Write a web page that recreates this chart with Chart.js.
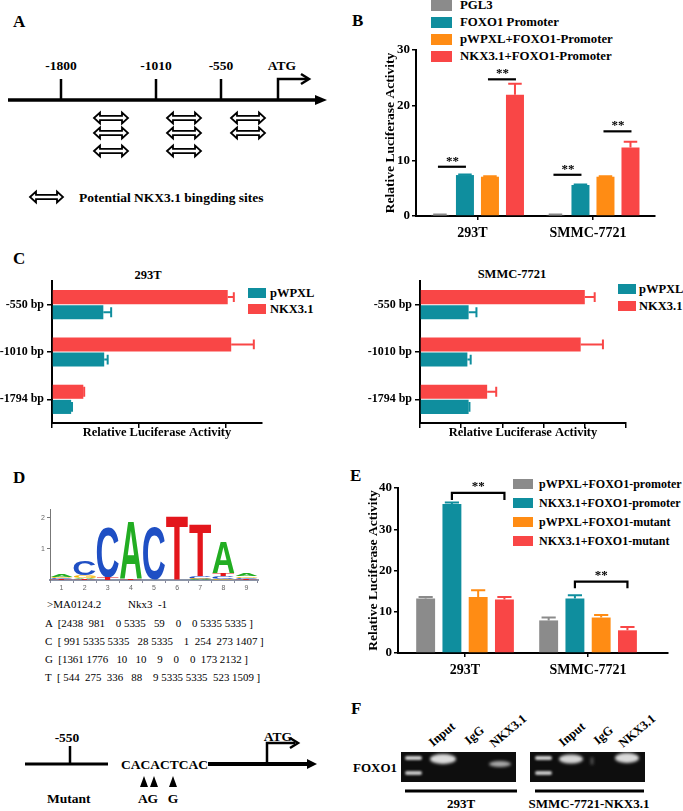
<!DOCTYPE html>
<html><head><meta charset="utf-8">
<script src="https://cdn.jsdelivr.net/npm/chart.js@4.4.0/dist/chart.umd.min.js"></script>
<style>
html,body{margin:0;padding:0;background:#fff;}
body{width:683px;height:811px;position:relative;overflow:hidden;font-family:"Liberation Serif","Times New Roman",serif;color:#000;}
.wrap{position:absolute;}
.abs{position:absolute;white-space:pre;line-height:1;}
.b{font-weight:bold;}
#diag{position:absolute;left:0;top:0;}
.lgbox{position:absolute;}
</style></head><body>
<svg id="diag" width="683" height="811" xmlns="http://www.w3.org/2000/svg" font-family="Liberation Serif, Times New Roman, serif">
  <defs>
    <filter id="blur1" x="-50%" y="-50%" width="200%" height="200%"><feGaussianBlur stdDeviation="1.6"/></filter>
    <filter id="blur2" x="-50%" y="-50%" width="200%" height="200%"><feGaussianBlur stdDeviation="1"/></filter>
  </defs>
  <g font-weight="bold">
    <text x="13" y="27" font-size="17">A</text>
    <text x="352" y="26" font-size="17">B</text>
    <text x="13" y="264" font-size="17">C</text>
    <text x="13" y="483" font-size="17">D</text>
    <text x="350" y="481" font-size="17">E</text>
    <text x="351" y="714" font-size="17">F</text>
  </g>
  <!-- Panel A -->
  <g id="panelA" stroke="#000" fill="none">
    <line x1="8" y1="100" x2="318" y2="100" stroke-width="3.5"/>
    <polygon points="315,95 327,100 315,105" fill="#000" stroke="none"/>
    <line x1="61" y1="79" x2="61" y2="100" stroke-width="2.5"/>
    <line x1="156" y1="79" x2="156" y2="100" stroke-width="2.5"/>
    <line x1="221" y1="79" x2="221" y2="100" stroke-width="2.5"/>
    <polyline points="278,100 278,79 307,79" stroke-width="2.5"/>
    <polyline points="301,74 309,79 301,84" stroke-width="2.5"/>
  </g>
  <g font-weight="bold" font-size="13.5" text-anchor="middle">
    <text x="61" y="70">-1800</text>
    <text x="156" y="70">-1010</text>
    <text x="221" y="70">-550</text>
    <text x="282" y="70">ATG</text>
  </g>
  <g id="arrowsA"></g>
  <text x="79" y="202" font-weight="bold" font-size="13.5">Potential NKX3.1 bingding sites</text>

  <!-- Panel D mutant diagram -->
  <g stroke="#000" fill="none">
    <line x1="25" y1="764" x2="108" y2="764" stroke-width="3"/>
    <line x1="70" y1="746" x2="70" y2="764" stroke-width="2.5"/>
    <line x1="208" y1="764" x2="309" y2="764" stroke-width="4"/>
    <polyline points="267,764 267,743 295,743" stroke-width="2.5"/>
    <polyline points="290,738 298,743 290,748" stroke-width="2.5"/>
  </g>
  <polygon points="307,759 317,764 307,769" fill="#000"/>
  <g fill="#000">
    <polygon points="140,787 148,787 144,776"/>
    <polygon points="150,787 158,787 154,776"/>
    <polygon points="169,787 177,787 173,776"/>
  </g>
  <g font-weight="bold" font-size="13.5">
    <text x="67" y="742" text-anchor="middle">-550</text>
    <text x="121" y="769" font-size="13.5">CACACTCAC</text>
    <text x="278" y="741" text-anchor="middle">ATG</text>
    <text x="148" y="803" text-anchor="middle">AG</text>
    <text x="173" y="803" text-anchor="middle">G</text>
    <text x="47" y="803">Mutant</text>
  </g>

  <!-- Panel F gel -->
  <g font-weight="bold" font-size="12.5">
    <text x="353" y="772" font-size="13">FOXO1</text>
    <text transform="translate(433,747) rotate(-40)">Input</text>
    <text transform="translate(469,745) rotate(-40)">IgG</text>
    <text transform="translate(494,748) rotate(-40)">NKX3.1</text>
    <text transform="translate(563,747) rotate(-40)">Input</text>
    <text transform="translate(598,745) rotate(-40)">IgG</text>
    <text transform="translate(623,748) rotate(-40)">NKX3.1</text>
    <text x="461" y="808" text-anchor="middle" font-size="13">293T</text>
    <text x="589" y="808" text-anchor="middle" font-size="13">SMMC-7721-NKX3.1</text>
  </g>
  <rect x="401" y="752" width="115" height="30" fill="#0e0e0e"/>
  <rect x="530" y="752" width="115" height="30" fill="#0e0e0e"/>
  <g filter="url(#blur2)">
    <rect x="405" y="756" width="17" height="4" rx="2" fill="#cfcfcf"/>
    <rect x="405" y="771" width="17" height="4" rx="2" fill="#c4c4c4"/>
    <rect x="535" y="756" width="17" height="4" rx="2" fill="#cfcfcf"/>
    <rect x="535" y="771" width="17" height="4" rx="2" fill="#c4c4c4"/>
  </g>
  <g filter="url(#blur1)">
    <ellipse cx="443" cy="759" rx="13" ry="5" fill="#dcdcdc"/>
    <ellipse cx="500" cy="764" rx="11" ry="3" fill="#a8a8a8"/>
    <ellipse cx="571" cy="759" rx="12" ry="4.5" fill="#d6d6d6"/>
    <ellipse cx="592" cy="761" rx="1.5" ry="4" fill="#555"/>
    <ellipse cx="627" cy="758" rx="12" ry="5" fill="#dadada"/>
  </g>
  <line x1="405" y1="791" x2="517" y2="791" stroke="#000" stroke-width="3"/>
  <line x1="535" y1="791" x2="644" y2="791" stroke="#000" stroke-width="3"/>
</svg>

<div id="legends"></div>
<div id="texts"></div>

<div class="wrap" style="left:340px;top:30px;"><canvas id="cB" width="330" height="215"></canvas></div>
<div class="wrap" style="left:-8px;top:270px;"><canvas id="cC1" width="288" height="180"></canvas></div>
<div class="wrap" style="left:340px;top:270px;"><canvas id="cC2" width="343" height="180"></canvas></div>
<div class="wrap" style="left:20px;top:500px;"><canvas id="cD" width="250" height="95"></canvas></div>
<div class="wrap" style="left:340px;top:470px;"><canvas id="cE" width="343" height="215"></canvas></div>

<script>
// ---------------- DATA ----------------
// Panel B
const bCategories = ['293T', 'SMMC-7721'];
const bSeries = ['PGL3', 'FOXO1 Promoter', 'pWPXL+FOXO1-Promoter', 'NKX3.1+FOXO1-Promoter'];
const bPGL3 = [0.2, 0.2];
const bFOXO1 = [7.4, 5.6];
const bPWPXL = [7.1, 7.1];
const bNKX = [21.9, 12.4];
const bPGL3Err = [0.25, 0.25];
const bFOXO1Err = [7.5, 5.7];
const bPWPXLErr = [7.2, 7.2];
const bNKXErr = [23.9, 13.4];
const bSigLines = [ // [category, barFrom, barTo, y]
  [0, 0, 1, 8.9], [0, 2, 3, 24.7], [1, 0, 1, 7.45], [1, 2, 3, 15.3]
];
const bTicks = [0, 10, 20, 30];

// Panel C
const cCategories = ['-550 bp', '-1010 bp', '-1794 bp'];
const cSeries = ['pWPXL', 'NKX3.1'];
const c293Pwpxl = [0.59, 0.60, 0.22];
const c293PwpxlErr = [0.68, 0.64, 0.23];
const c293Nkx = [2.02, 2.06, 0.36];
const c293NkxErr = [2.09, 2.32, 0.37];
const cSmmcPwpxl = [1.18, 1.15, 1.18];
const cSmmcPwpxlErr = [1.37, 1.23, 1.20];
const cSmmcNkx = [4.0, 3.9, 1.63];
const cSmmcNkxErr = [4.24, 4.44, 1.85];

// Panel D (sequence logo, bits)
const logoPositions = ['1','2','3','4','5','6','7','8','9'];
const logoA = [0.10, 0.05, 0.00, 1.85, 0.01, 0.00, 0.02, 1.00, 0.10];
const logoC = [0.03, 0.48, 1.62, 0.00, 1.68, 0.00, 0.08, 0.08, 0.04];
const logoG = [0.05, 0.10, 0.00, 0.00, 0.00, 0.00, 0.02, 0.04, 0.05];
const logoT = [0.02, 0.02, 0.06, 0.05, 0.00, 2.05, 1.66, 0.10, 0.03];
const matrixId = '>MA0124.2';
const matrixName = 'Nkx3  -1';
const matrixA = [2438, 981, 0, 5335, 59, 0, 0, 5335, 5335];
const matrixC = [991, 5335, 5335, 28, 5335, 1, 254, 273, 1407];
const matrixG = [1361, 1776, 10, 10, 9, 0, 0, 173, 2132];
const matrixT = [544, 275, 336, 88, 9, 5335, 5335, 523, 1509];

// Panel E
const eCategories = ['293T', 'SMMC-7721'];
const eSeries = ['pWPXL+FOXO1-promoter', 'NKX3.1+FOXO1-promoter', 'pWPXL+FOXO1-mutant', 'NKX3.1+FOXO1-mutant'];
const ePwpxlProm = [13.2, 7.9];
const eNkxProm = [36.1, 13.2];
const ePwpxlMut = [13.6, 8.6];
const eNkxMut = [13.0, 5.5];
const ePwpxlPromErr = [13.6, 8.6];
const eNkxPromErr = [36.5, 14.0];
const ePwpxlMutErr = [15.2, 9.2];
const eNkxMutErr = [13.6, 6.3];
const eBrackets = [ // [category, barFrom, barTo, y, yDrop]
  [0, 1, 3, 38.8, 37.1], [1, 1, 3, 17.3, 15.7]
];

// ---------------- STYLE ----------------
const SERIF = '"Liberation Serif", "Times New Roman", serif';
const GRAY = '#8b8b8b', TEAL = '#0f8e9e', ORANGE = '#ff8c14', RED = '#f94646';
const LOGO_COL = {A:'#22ad22', C:'#1f4fc4', G:'#f5b400', T:'#e3161c'};

// ---------------- HTML helpers ----------------
function addText(txt, x, y, size, bold, extra) {
  const d = document.createElement('div');
  d.className = 'abs' + (bold ? ' b' : '');
  d.textContent = txt;
  d.style.left = x + 'px'; d.style.top = y + 'px'; d.style.fontSize = size + 'px';
  if (extra) Object.assign(d.style, extra);
  document.getElementById('texts').appendChild(d);
  return d;
}
function addLegend(names, colors, boxX, boxW, boxH, textX, centers, size) {
  names.forEach((n, i) => {
    const b = document.createElement('div');
    b.className = 'lgbox';
    Object.assign(b.style, {left: boxX + 'px', top: (centers[i] - boxH / 2) + 'px', width: boxW + 'px', height: boxH + 'px', background: colors[i]});
    document.getElementById('legends').appendChild(b);
    addText(n, textX, centers[i] - size * 0.5, size, true);
  });
}

// Panel A arrows
(function () {
  const g = document.getElementById('arrowsA');
  function dbl(x1, x2, cy) {
    const hl = 6, hh = 5.5, sh = 2.2;
    const pts = [[x1,cy],[x1+hl,cy-hh],[x1+hl,cy-sh],[x2-hl,cy-sh],[x2-hl,cy-hh],[x2,cy],[x2-hl,cy+hh],[x2-hl,cy+sh],[x1+hl,cy+sh],[x1+hl,cy+hh]];
    const p = document.createElementNS('http://www.w3.org/2000/svg', 'polygon');
    p.setAttribute('points', pts.map(q => q.join(',')).join(' '));
    p.setAttribute('fill', '#fff'); p.setAttribute('stroke', '#000'); p.setAttribute('stroke-width', '1.8');
    p.setAttribute('stroke-linejoin', 'miter');
    g.appendChild(p);
  }
  [118, 133, 151].forEach(y => { dbl(94, 128, y); dbl(167, 201, y); });
  [118, 133].forEach(y => dbl(231, 265, y));
  dbl(30, 63, 197);
})();

// Panel C titles
addText('293T', 148, 269, 12.5, true, {transform: 'translateX(-50%)'});
addText('SMMC-7721', 512, 268, 12.5, true, {transform: 'translateX(-50%)'});

// Matrix text
function mrow(L, arr) { return L + '  [' + arr.map(n => String(n).padStart(4, ' ')).join(' ') + ' ]'; }
addText(matrixId, 47, 599, 11, false);
addText(matrixName, 128, 599, 11, false);
addText(mrow('A', matrixA), 45, 618, 10.9, false);
addText(mrow('C', matrixC), 45, 636, 10.9, false);
addText(mrow('G', matrixG), 45, 654, 10.9, false);
addText(mrow('T', matrixT), 45, 672, 10.9, false);

// Legends
addLegend(bSeries, [GRAY, TEAL, ORANGE, RED], 431, 21, 11, 460, [5, 22, 39, 56], 12.8);
addLegend(cSeries, [TEAL, RED], 248, 18, 10, 270, [293, 309], 12.5);
addLegend(cSeries, [TEAL, RED], 618, 18, 10, 639, [289, 306], 12.5);
addLegend(eSeries, [GRAY, TEAL, ORANGE, RED], 513, 20, 10, 539, [484, 503, 522, 541], 12);

// ---------------- Plugins ----------------
const annotPlugin = {
  id: 'annot',
  afterDatasetsDraw(chart, args, opts) {
    const ctx = chart.ctx;
    const hor = chart.options.indexAxis === 'y';
    const vScale = hor ? chart.scales.x : chart.scales.y;
    (opts.errors || []).forEach((arr, di) => {
      if (!arr) return;
      const meta = chart.getDatasetMeta(di);
      const col = chart.data.datasets[di].backgroundColor;
      meta.data.forEach((el, i) => {
        const e = arr[i]; if (e == null) return;
        const p = el.getProps(['x', 'y', 'width', 'height'], true);
        const q = vScale.getPixelForValue(e);
        ctx.save(); ctx.strokeStyle = col; ctx.lineWidth = opts.lineWidth || 2; ctx.beginPath();
        if (!hor) {
          const cw = p.width * (opts.cap || 0.75) / 2;
          ctx.moveTo(p.x, p.y); ctx.lineTo(p.x, q);
          ctx.moveTo(p.x - cw, q); ctx.lineTo(p.x + cw, q);
        } else {
          const ch = p.height * (opts.cap || 0.7) / 2;
          ctx.moveTo(p.x, p.y); ctx.lineTo(q, p.y);
          ctx.moveTo(q, p.y - ch); ctx.lineTo(q, p.y + ch);
        }
        ctx.stroke(); ctx.restore();
      });
    });
    (opts.sig || []).forEach(s => {
      const [cat, a, b, yv, yd] = s;
      const xa = chart.getDatasetMeta(a).data[cat].x;
      const xb = chart.getDatasetMeta(b).data[cat].x;
      const y = vScale.getPixelForValue(yv);
      ctx.save(); ctx.strokeStyle = '#000'; ctx.lineWidth = 2.2; ctx.beginPath();
      if (yd != null) {
        const y2 = vScale.getPixelForValue(yd);
        ctx.moveTo(xa, y2); ctx.lineTo(xa, y); ctx.lineTo(xb, y); ctx.lineTo(xb, y2);
      } else {
        ctx.moveTo(xa - 2, y); ctx.lineTo(xb + 1, y);
      }
      ctx.stroke();
      ctx.fillStyle = '#000'; ctx.font = 'bold 13px ' + SERIF; ctx.textAlign = 'center'; ctx.textBaseline = 'alphabetic';
      ctx.fillText('**', (xa + xb) / 2, y - (yd != null ? 3 : 2));
      ctx.restore();
    });
  }
};

function drawGlyph(ctx, ch, color, x, y, w, h) {
  ctx.save();
  ctx.font = 'bold 100px "Liberation Sans", Arial, sans-serif';
  ctx.textBaseline = 'alphabetic'; ctx.textAlign = 'left';
  const m = ctx.measureText(ch);
  const gw = m.actualBoundingBoxLeft + m.actualBoundingBoxRight;
  const gh = m.actualBoundingBoxAscent + m.actualBoundingBoxDescent;
  ctx.translate(x, y);
  ctx.scale(w / gw, h / gh);
  ctx.fillStyle = color;
  ctx.fillText(ch, m.actualBoundingBoxLeft, m.actualBoundingBoxAscent);
  ctx.restore();
}
const logoPlugin = {
  id: 'logo',
  afterDatasetsDraw(chart) {
    const ctx = chart.ctx;
    chart.data.datasets.forEach((ds, di) => {
      chart.getDatasetMeta(di).data.forEach(el => {
        const p = el.getProps(['x', 'y', 'base', 'width'], true);
        const top = Math.min(p.y, p.base), h = Math.abs(p.base - p.y);
        if (h < 0.6) return;
        drawGlyph(ctx, ds.label, LOGO_COL[ds.label], p.x - p.width / 2, top, p.width, h);
      });
    });
  }
};

// ---------------- Common axis styles ----------------
const tickFont = (s) => ({family: SERIF, size: s, weight: 'bold'});
const blackGrid = (len) => ({display: true, drawOnChartArea: false, drawTicks: true, tickLength: len, color: '#000', lineWidth: 1.5, offset: false});
const border2 = {display: true, color: '#000', width: 2};

// ---------------- Panel B / E ----------------
function groupedBars(id, cats, seriesVals, colors, errs, sig, o) {
  return new Chart(document.getElementById(id), {
    type: 'bar',
    data: {
      datasets: seriesVals.map((vals, k) => ({
        label: o.names[k], data: vals.map((v, i) => ({x: i, y: v})),
        backgroundColor: colors[k], borderWidth: 0,
        barPercentage: o.barPct, categoryPercentage: o.catPct
      }))
    },
    options: {
      responsive: false, animation: false, events: [],
      layout: {padding: o.pad},
      plugins: {legend: {display: false}, tooltip: {enabled: false}, annot: {errors: errs, sig: sig, cap: o.cap}},
      scales: {
        x: {
          type: 'linear', min: o.xmin, max: o.xmax, offset: false,
          afterFit(s) { s.height = o.xh; },
          afterBuildTicks(s) { s.ticks = cats.map((c, i) => ({value: i})); },
          ticks: {callback: (v) => cats[v], font: tickFont(14), color: '#000', padding: 5, maxRotation: 0, autoSkip: false, labelOffset: o.labelOffset || 0},
          grid: blackGrid(4), border: border2
        },
        y: {
          min: 0, max: o.ymax,
          afterFit(s) { s.width = o.yw; },
          afterBuildTicks(s) { s.ticks = o.yticks.map(v => ({value: v})); },
          ticks: {font: tickFont(13), color: '#000', padding: 2},
          grid: blackGrid(4), border: border2,
          title: {display: true, text: 'Relative Luciferase Activity', font: tickFont(13.5), color: '#000', padding: {top: o.titlePad, bottom: 0}}
        }
      }
    },
    plugins: [annotPlugin]
  });
}

groupedBars('cB', bCategories, [bPGL3, bFOXO1, bPWPXL, bNKX], [GRAY, TEAL, ORANGE, RED],
  [bPGL3Err, bFOXO1Err, bPWPXLErr, bNKXErr], bSigLines,
  {names: bSeries, barPct: 0.72, catPct: 0.866, pad: {left: 0, right: 15, top: 20, bottom: 0},
   xmin: -0.532, xmax: 1.537, xh: 29, ymax: 30, yw: 76, yticks: bTicks, titlePad: 42, labelOffset: -5, cap: 0.75});

groupedBars('cE', eCategories, [ePwpxlProm, eNkxProm, ePwpxlMut, eNkxMut], [GRAY, TEAL, ORANGE, RED],
  [ePwpxlPromErr, eNkxPromErr, ePwpxlMutErr, eNkxMutErr], eBrackets,
  {names: eSeries, barPct: 0.72, catPct: 0.854, pad: {left: 0, right: 15, top: 18, bottom: 0},
   xmin: -0.545, xmax: 1.65, xh: 32, ymax: 40, yw: 58, yticks: [0, 10, 20, 30, 40], titlePad: 25, cap: 0.75});

// ---------------- Panel C ----------------
function hbars(id, vals, errs, o) {
  return new Chart(document.getElementById(id), {
    type: 'bar',
    data: {
      labels: cCategories,
      datasets: [
        {label: cSeries[1], data: vals[1], backgroundColor: RED, borderWidth: 0, barPercentage: 0.93, categoryPercentage: 0.64},
        {label: cSeries[0], data: vals[0], backgroundColor: TEAL, borderWidth: 0, barPercentage: 0.93, categoryPercentage: 0.64}
      ]
    },
    options: {
      indexAxis: 'y', responsive: false, animation: false, events: [],
      layout: {padding: o.pad},
      plugins: {legend: {display: false}, tooltip: {enabled: false}, annot: {errors: [errs[1], errs[0]], cap: 0.7}},
      scales: {
        x: {
          type: 'linear', min: 0, max: o.xmax,
          afterFit(s) { s.height = 27; },
          ticks: {stepSize: 1, includeBounds: false, callback: () => '', padding: 0},
          grid: blackGrid(5), border: border2,
          title: {display: true, text: 'Relative Luciferase Activity', font: tickFont(12.5), color: '#000', padding: {top: 0, bottom: 10}}
        },
        y: {
          afterFit(s) { s.width = o.yw; },
          ticks: {font: tickFont(12), color: '#000', padding: 3},
          grid: blackGrid(5), border: border2, offset: true
        }
      }
    },
    plugins: [annotPlugin]
  });
}
hbars('cC1', [c293Pwpxl, c293Nkx], [c293PwpxlErr, c293NkxErr], {pad: {left: 0, right: 18, top: 11, bottom: 0}, xmax: 2.414, yw: 60});
hbars('cC2', [cSmmcPwpxl, cSmmcNkx], [cSmmcPwpxlErr, cSmmcNkxErr], {pad: {left: 0, right: 57, top: 11, bottom: 0}, xmax: 5, yw: 80});

// ---------------- Panel D logo ----------------
(function () {
  const letters = {A: logoA, C: logoC, G: logoG, T: logoT};
  const stacks = {A: [], C: [], G: [], T: []};
  logoPositions.forEach((p, i) => {
    const order = Object.keys(letters).map(L => [L, letters[L][i]]).sort((a, b) => a[1] - b[1]);
    let base = 0;
    order.forEach(([L, h]) => { stacks[L][i] = [base, base + h]; base += h; });
  });
  new Chart(document.getElementById('cD'), {
    type: 'bar',
    data: {
      labels: logoPositions,
      datasets: Object.keys(stacks).map(L => ({label: L, data: stacks[L], backgroundColor: 'rgba(0,0,0,0)', borderWidth: 0, grouped: false, barPercentage: 0.95, categoryPercentage: 1}))
    },
    options: {
      responsive: false, animation: false, events: [],
      layout: {padding: {left: 0, right: 12, top: 9, bottom: 0}},
      plugins: {legend: {display: false}, tooltip: {enabled: false}},
      scales: {
        x: {
          afterFit(s) { s.height = 15; },
          ticks: {font: {family: '"Liberation Sans", Arial, sans-serif', size: 7}, color: '#666', padding: 1},
          grid: {display: true, drawOnChartArea: false, tickLength: 3, color: '#889', offset: true},
          border: {display: true, color: '#8a93a6', width: 2}
        },
        y: {
          min: 0, max: 2.29,
          afterFit(s) { s.width = 30; },
          afterBuildTicks(s) { s.ticks = [{value: 1}, {value: 2}]; },
          ticks: {font: {family: '"Liberation Sans", Arial, sans-serif', size: 7}, color: '#666', padding: 2},
          grid: {display: true, drawOnChartArea: false, tickLength: 3, color: '#777'},
          border: {display: true, color: '#777', width: 1}
        }
      }
    },
    plugins: [logoPlugin]
  });
})();
</script>
</body></html>
